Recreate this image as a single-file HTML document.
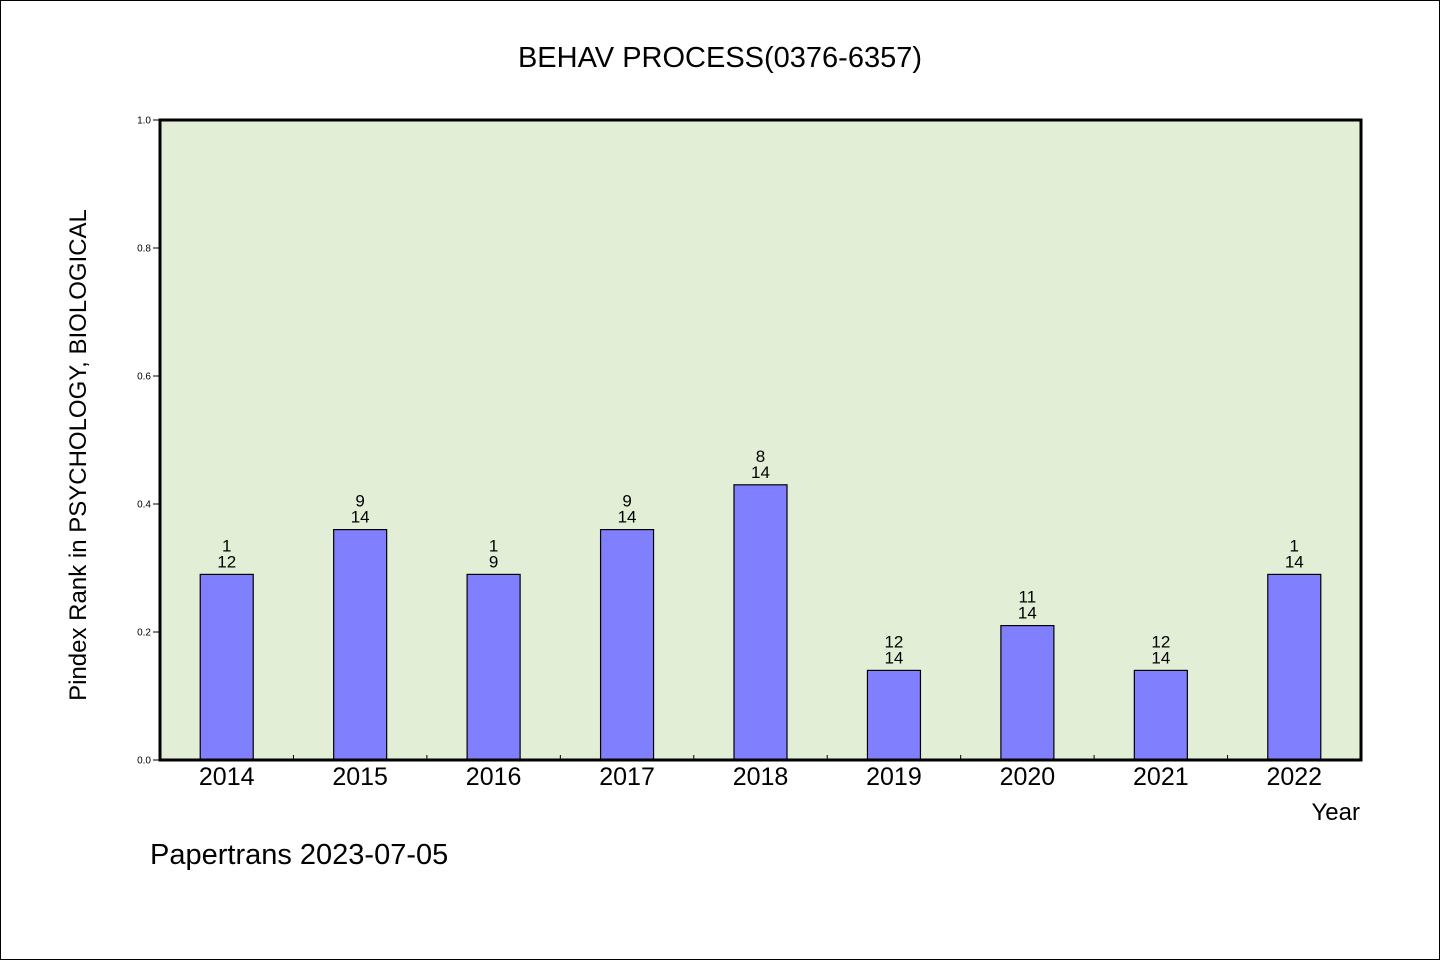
<!DOCTYPE html>
<html><head><meta charset="utf-8"><style>
body{margin:0;background:#fff}
svg text{font-family:"WenQuanYi Zen Hei","Liberation Sans",sans-serif;fill:#000}
</style></head><body>
<svg width="1440" height="960">
<rect x="0.5" y="0.5" width="1439" height="959" fill="#fff" stroke="#000"/>
<text x="720" y="67" font-size="29" text-anchor="middle">BEHAV PROCESS(0376-6357)</text>
<rect x="160" y="120" width="1201" height="640" fill="#e2efd6"/>
<g id="bars"></g>
<rect x="160" y="120" width="1201" height="640" fill="none" stroke="#000" stroke-width="3"/>
<g id="axes"></g>
<text transform="translate(86,455) rotate(-90)" font-size="24" text-anchor="middle">Pindex Rank in PSYCHOLOGY, BIOLOGICAL</text>
<text x="1360" y="820" font-size="24" text-anchor="end">Year</text>
<text x="150" y="864" font-size="29">Papertrans 2023-07-05</text>
</svg>
<script>
const categories=["2014","2015","2016","2017","2018","2019","2020","2021","2022"];
const values=[0.29,0.36,0.29,0.36,0.43,0.14,0.21,0.14,0.29];
const ranks=["1","9","1","9","8","12","11","12","1"];
const totals=["12","14","9","14","14","14","14","14","14"];
const yTicks=[0,0.2,0.4,0.6,0.8,1.0];
const NS="http://www.w3.org/2000/svg";
const L=160,R=1361,T=120,B=760;
const band=(R-L)/categories.length;
const xc=i=>L+band*(i+0.5);
const y=v=>B-(v)*(B-T);
function mk(tag,attrs,parent,txt){const e=document.createElementNS(NS,tag);for(const k in attrs)e.setAttribute(k,attrs[k]);if(txt!==undefined)e.textContent=txt;parent.appendChild(e);return e;}
const gb=document.getElementById('bars'),ga=document.getElementById('axes');
categories.forEach((c,i)=>{
 const bw=53;
 const r=mk('rect',{x:xc(i)-bw/2,y:y(values[i]),width:bw,height:B-y(values[i]),fill:'#8080ff',stroke:'#000','stroke-width':1.2},gb);
 
 
 const t1=mk('text',{x:xc(i),y:y(values[i])-23,'font-size':17,'text-anchor':'middle'},gb,ranks[i]);
 
 
 const t2=mk('text',{x:xc(i),y:y(values[i])-7,'font-size':17,'text-anchor':'middle'},gb,totals[i]);
 
 
 const xl=mk('text',{x:xc(i),y:785,'font-size':25,'text-anchor':'middle'},ga,c);
 
 
 if(i>0){const tk=mk('line',{x1:L+band*i,x2:L+band*i,y1:B,y2:B-5,stroke:'#000'},ga);
 
 }
});
yTicks.forEach(v=>{
 const tk=mk('line',{x1:L-7,x2:L,y1:y(v),y2:y(v),stroke:'#000'},ga);
 
 
 const tl=mk('text',{x:L-9,y:y(v)+3.5,'font-size':10,'text-anchor':'end'},ga,v.toFixed(1));
 
 
});
</script>
</body></html>
